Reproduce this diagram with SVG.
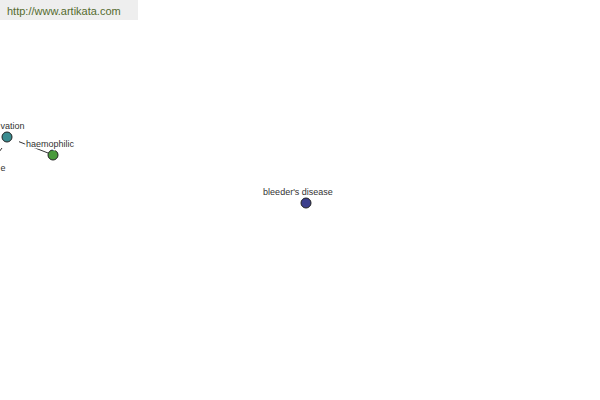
<svg xmlns="http://www.w3.org/2000/svg" width="600" height="400" viewBox="0 0 600 400">
<style>
.lbl{font-family:"Liberation Sans",Arial,sans-serif;font-size:9px;fill:#333;stroke:#fff;stroke-width:3px;paint-order:stroke;stroke-linejoin:round}
.node{stroke:#222;stroke-width:1}
.edge{stroke:#333;stroke-width:1;fill:none}
</style>
<rect width="600" height="400" fill="#fff"/>
<g id="banner">
<rect x="0" y="0" width="138" height="20" fill="#eeeeee"/>
<text x="7" y="15" font-family="'Liberation Sans',Arial,sans-serif" font-size="11" fill="#556b2f">http://www.artikata.com</text>
</g>
<g id="connectors">
<line class="edge" x1="19" y1="141.7" x2="48" y2="153"/>
<line class="edge" x1="2" y1="148" x2="-4" y2="156"/>
</g>
<g id="node-vation">
<circle class="node" cx="7" cy="137" r="5" fill="#3a8c90"/>
<text class="lbl" x="0.5" y="129">vation</text>
</g>
<g id="node-e">
<text class="lbl" x="0.5" y="171">e</text>
</g>
<g id="node-haemophilic">
<circle class="node" cx="53" cy="155" r="5" fill="#4a9a3c"/>
<text class="lbl" x="50" y="147" text-anchor="middle">haemophilic</text>
</g>
<g id="node-bleeders-disease">
<circle class="node" cx="306" cy="203" r="5" fill="#3c3f8c"/>
<text class="lbl" x="298" y="195" text-anchor="middle">bleeder's disease</text>
</g>
</svg>
